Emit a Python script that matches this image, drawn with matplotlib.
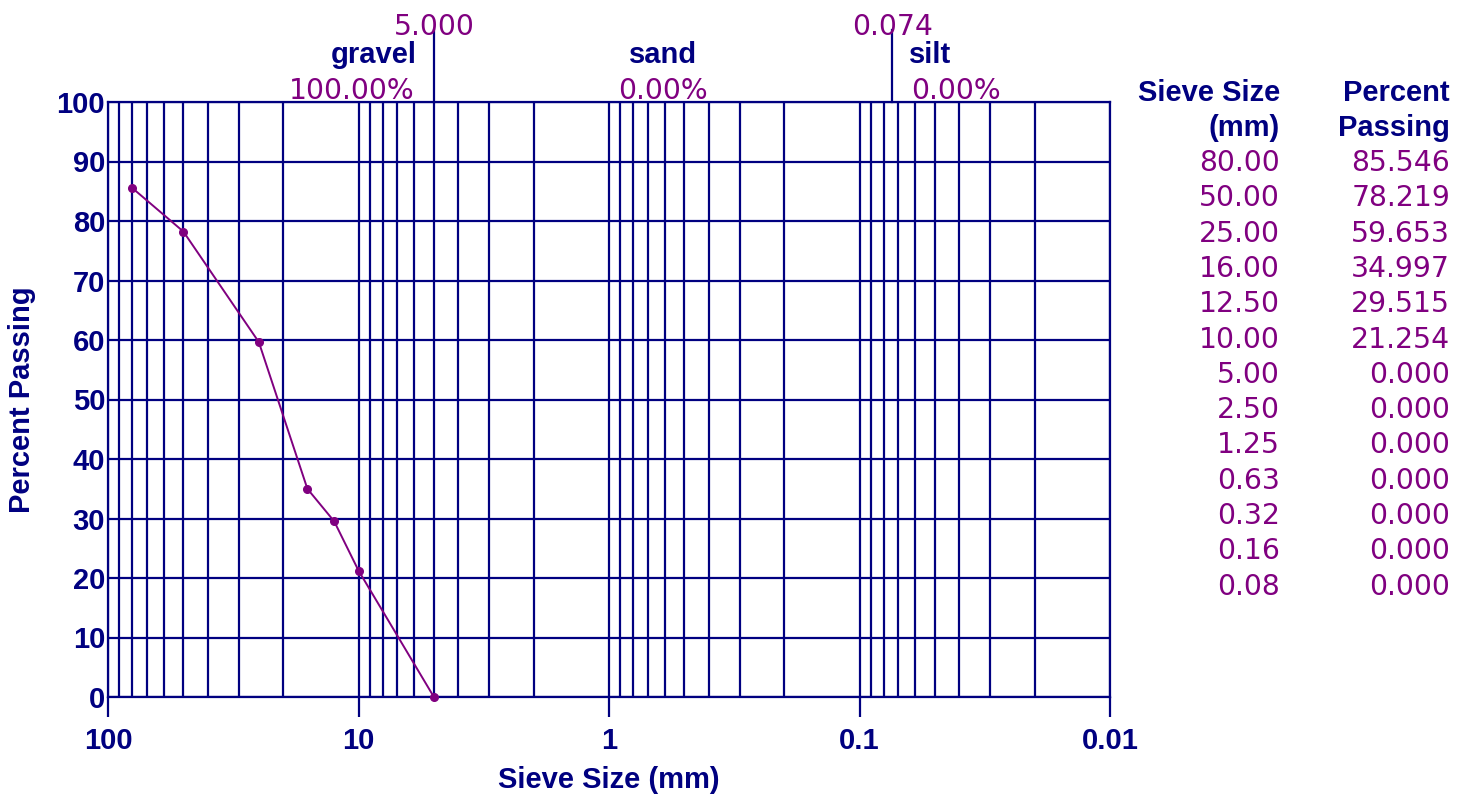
import matplotlib
matplotlib.use("Agg")
import matplotlib.pyplot as plt
import matplotlib.transforms as mtransforms
import numpy as np

# ---- data ----
sieve_sizes = [80.00, 50.00, 25.00, 16.00, 12.50, 10.00, 5.00, 2.50, 1.25, 0.63, 0.32, 0.16, 0.08]
percent_passing = [85.546, 78.219, 59.653, 34.997, 29.515, 21.254, 0.000, 0.000, 0.000, 0.000, 0.000, 0.000, 0.000]
boundary_sizes = [5.000, 0.074]
boundary_labels = ["5.000", "0.074"]
fraction_names = ["gravel", "sand", "silt"]
fraction_percents = ["100.00%", "0.00%", "0.00%"]
x_tick_values = [100, 10, 1, 0.1, 0.01]
x_tick_labels = ["100", "10", "1", "0.1", "0.01"]
y_tick_values = [0, 10, 20, 30, 40, 50, 60, 70, 80, 90, 100]

NAVY = "#000080"
PURPLE = "#800080"
BOLD = "Liberation Sans"
REG = "DejaVu Sans"
BFS = 21
PFS = 20.3

W, H = 1470, 797
fig = plt.figure(figsize=(W / 100, H / 100), dpi=100)
L, R, T, B = 108, 1110, 102, 697
ax = fig.add_axes([L / W, 1 - B / H, (R - L) / W, (B - T) / H])

ax.set_xscale("log")
ax.set_xlim(100, 0.01)
ax.set_ylim(0, 100)

# minor grid positions (2..9 of each decade)
minor = []
for d in [10, 1, 0.1, 0.01]:
    for k in range(2, 10):
        minor.append(d * k)
ax.set_xticks(x_tick_values)
ax.set_xticklabels(x_tick_labels)
ax.set_xticks(minor, minor=True)
ax.set_xticklabels([], minor=True)
ax.set_yticks(y_tick_values)
ax.set_yticklabels([str(v) for v in y_tick_values])

ax.tick_params(axis="x", which="major", length=14.4, width=1.6, color=NAVY,
               labelcolor=NAVY, pad=7, direction="out")
ax.tick_params(axis="x", which="minor", length=0)
ax.tick_params(axis="y", length=0, pad=2, labelcolor=NAVY)
for lbl in ax.get_xticklabels() + ax.get_yticklabels():
    lbl.set_fontfamily(BOLD)
    lbl.set_fontweight("bold")
    lbl.set_fontsize(BFS)

ax.grid(True, which="both", axis="x", color=NAVY, linewidth=1.6)
ax.grid(True, which="major", axis="y", color=NAVY, linewidth=1.6)
ax.set_axisbelow(True)
for s in ax.spines.values():
    s.set_color(NAVY)
    s.set_linewidth(1.6)

# data line: plot up to first zero
n = next(i for i, v in enumerate(percent_passing) if v == 0) + 1
ax.plot(sieve_sizes[:n], percent_passing[:n], color=PURPLE, linewidth=1.4,
        marker="o", markersize=5.5, clip_on=False, zorder=5)

ax.set_xlabel("Sieve Size (mm)", fontfamily=BOLD, fontweight="bold",
              fontsize=BFS, color=NAVY)
ax.xaxis.set_label_coords(0.5, -(780 - B) / (B - T), transform=ax.transAxes)
ax.xaxis.label.set_va("center")
ax.set_ylabel("Percent Passing", fontfamily=BOLD, fontweight="bold",
              fontsize=BFS, color=NAVY)
ax.yaxis.set_label_coords(-(L - 22) / (R - L), 0.5)
ax.yaxis.label.set_va("center")

# boundary lines above the axes
trans = mtransforms.blended_transform_factory(ax.transData, ax.transAxes)
top_ext = 1 + 72 / (B - T)
for bs, bl in zip(boundary_sizes, boundary_labels):
    ax.plot([bs, bs], [1, top_ext], transform=trans, color=NAVY,
            linewidth=1.6, clip_on=False)
    ax.text(bs, top_ext + 0.005, bl, transform=trans, ha="center", va="center",
            fontfamily=REG, fontsize=PFS, color=PURPLE)

# fraction labels
frac_pos = [(417, "right", 414, "right"), (663, "center", 663, "center"),
            (930, "center", 956, "center")]
for name, pct, (nx, nha, px, pha) in zip(fraction_names, fraction_percents, frac_pos):
    fig.text(nx / W, 1 - 55 / H, name, ha=nha, va="center", fontfamily=BOLD,
             fontweight="bold", fontsize=BFS, color=NAVY)
    fig.text(px / W, 1 - 91 / H, pct, ha=pha, va="center", fontfamily=REG,
             fontsize=PFS, color=PURPLE)

# table
for txt, x, y in [("Sieve Size", 1280, 93), ("(mm)", 1280, 128),
                  ("Percent", 1450, 93), ("Passing", 1450, 128)]:
    fig.text(x / W, 1 - y / H, txt, ha="right", va="center",
             fontfamily=BOLD, fontweight="bold", fontsize=BFS, color=NAVY)
for i, (s, p) in enumerate(zip(sieve_sizes, percent_passing)):
    y = 163 + i * 35.3
    fig.text(1280 / W, 1 - y / H, f"{s:.2f}", ha="right", va="center",
             fontfamily=REG, fontsize=PFS, color=PURPLE)
    fig.text(1450 / W, 1 - y / H, f"{p:.3f}", ha="right", va="center",
             fontfamily=REG, fontsize=PFS, color=PURPLE)

fig.savefig("out.png", dpi=100, facecolor="white")
